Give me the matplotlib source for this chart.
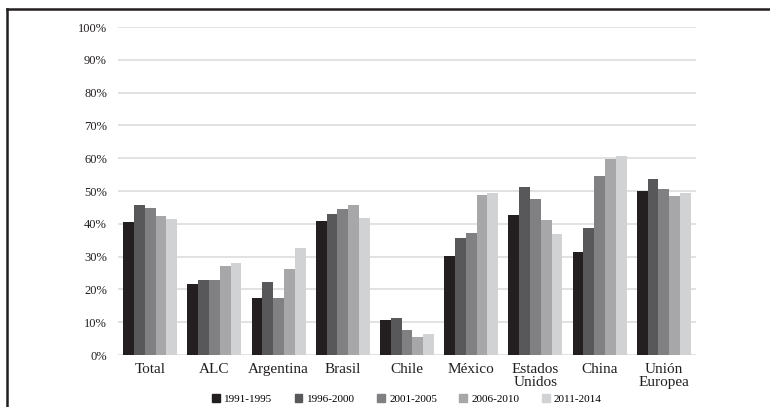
import numpy as np
import matplotlib.pyplot as plt
from matplotlib.lines import Line2D
from matplotlib.patches import Patch

plt.rcParams['font.family'] = ['Liberation Serif', 'DejaVu Serif']

categories = ['Total', 'ALC', 'Argentina', 'Brasil', 'Chile', 'México',
              'Estados\nUnidos', 'China', 'Unión\nEuropea']
periods = ['1991-1995', '1996-2000', '2001-2005', '2006-2010', '2011-2014']
v1991 = [40.6, 21.7, 17.4, 41.0, 10.7, 30.2, 42.7, 31.4, 50.1]
v1996 = [45.8, 22.9, 22.3, 43.0, 11.3, 35.7, 51.2, 38.7, 53.7]
v2001 = [44.9, 22.9, 17.4, 44.6, 7.6, 37.2, 47.6, 54.6, 50.6]
v2006 = [42.4, 27.1, 26.3, 45.8, 5.6, 48.8, 41.2, 59.8, 48.5]
v2011 = [41.5, 28.1, 32.6, 41.8, 6.4, 49.4, 36.9, 60.7, 49.4]
series = [v1991, v1996, v2001, v2006, v2011]
colors = ['#231f20', '#58585a', '#808082', '#a7a7a9', '#d1d2d4']

fig = plt.figure(figsize=(7.7, 4.07), dpi=100)
ax = fig.add_axes([118/770, 1 - 355/407, 578/770, 328/407])

x = np.arange(len(categories))
w = 0.168
for i, vals in enumerate(series):
    ax.bar(x + (i - 2) * w, vals, width=w, color=colors[i], zorder=3)

ax.set_ylim(0, 100)
ax.set_xlim(-0.5, len(categories) - 0.5)
ax.set_yticks(np.arange(0, 101, 10))
ax.set_yticklabels([f'{t}%' for t in range(0, 101, 10)],
                   fontsize=9, color='#231f20')
ax.set_xticks(x)
ax.set_xticklabels(categories, fontsize=11, color='#231f20', linespacing=0.95)
ax.tick_params(axis='both', length=0)
ax.tick_params(axis='x', pad=6)
ax.tick_params(axis='y', pad=8)
ax.grid(axis='y', color='#e2e2e2', linewidth=1.4, zorder=0)
for s in ax.spines.values():
    s.set_visible(False)

handles = [Patch(color=c) for c in colors]
fig.legend(handles, periods, loc='center', ncol=5,
           bbox_to_anchor=(407/770, 1 - 399/407), frameon=False,
           fontsize=8, handlelength=0.7, handleheight=0.7,
           handletextpad=0.4, columnspacing=2.0)

# marco
fig.add_artist(Line2D([7/770, 7/770], [0, 1 - 9/407], color='#231f20', lw=1.8))
fig.add_artist(Line2D([7/770, 1], [1 - 9/407, 1 - 9/407], color='#231f20', lw=1.8))

fig.savefig('out.png', dpi=100)
